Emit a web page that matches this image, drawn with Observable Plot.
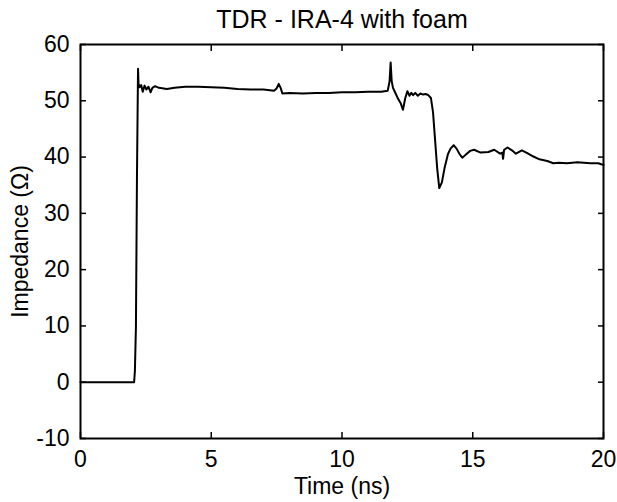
<!DOCTYPE html>
<html><head><meta charset="utf-8">
<script src="https://cdn.jsdelivr.net/npm/d3@7"></script>
<script src="https://cdn.jsdelivr.net/npm/@observablehq/plot@0.6"></script>
<style>body{margin:0;background:#fff}</style>
</head><body><div id="chart"></div>
<script>
const time = [
  0, 2.05, 2.08, 2.12, 2.16, 2.2, 2.22, 2.26, 2.32, 2.38,
  2.45, 2.52, 2.6, 2.68, 2.75, 2.85, 3.0, 3.3, 3.6, 4.0,
  4.5, 5.0, 5.5, 6.0, 6.5, 7.0, 7.4, 7.5, 7.58, 7.66,
  7.72, 8.0, 8.5, 9.0, 9.5, 10.0, 10.5, 11.0, 11.5, 11.75,
  11.82, 11.86, 11.9, 11.95, 12.05, 12.15, 12.25, 12.33, 12.42, 12.5,
  12.58, 12.65, 12.72, 12.8, 12.9, 13.0, 13.1, 13.2, 13.3, 13.4,
  13.48, 13.56, 13.64, 13.72, 13.82, 13.92, 14.05, 14.15, 14.27, 14.38,
  14.5, 14.6, 14.75, 14.9, 15.05, 15.3, 15.6, 15.82, 16.05, 16.13,
  16.16, 16.2, 16.33, 16.5, 16.65, 16.88, 17.05, 17.32, 17.55, 17.85,
  18.08, 18.3, 18.6, 19.0, 19.5, 19.8, 20.0
];
const impedance = [
  0, 0, 2, 10, 37, 55.7, 53, 52.4, 52.8, 51.6,
  52.7, 52.0, 52.5, 51.5, 52.3, 52.6, 52.3, 52.1, 52.3, 52.5,
  52.5, 52.4, 52.3, 52.1, 52.0, 52.0, 51.8, 52.2, 53.0, 52.2,
  51.3, 51.4, 51.3, 51.4, 51.4, 51.5, 51.5, 51.6, 51.6, 51.8,
  53.5, 56.8, 53.5, 52.3, 51.3, 50.3, 49.5, 48.4, 50.5, 51.7,
  50.9, 51.4, 51.0, 51.4, 50.9, 51.3, 51.1, 51.2, 51.0, 50.5,
  48.0, 43.0, 38.0, 34.5, 35.5, 38.0, 40.5, 41.5, 42.1, 41.5,
  40.5, 39.9, 40.5, 41.1, 41.3, 40.8, 40.9, 41.3, 40.6, 40.8,
  39.7, 41.3, 41.7, 41.2, 40.6, 41.2, 40.8, 40.1, 39.6, 39.3,
  38.9, 39.0, 38.9, 39.1, 38.9, 38.9, 38.6
];
const xTicks = [0, 5, 10, 15, 20];
const yTicks = [-10, 0, 10, 20, 30, 40, 50, 60];
const titleText = "TDR - IRA-4 with foam";
const xLabel = "Time (ns)";
const yLabel = "Impedance (\u03A9)";

const data = time.map((t, i) => ({t, z: impedance[i]}));
const blank = () => "";
const plain = (d) => `${d}`;

const chart = Plot.plot({
  width: 617,
  height: 502,
  marginLeft: 80,
  marginRight: 14,
  marginTop: 44,
  marginBottom: 64,
  style: {fontFamily: "'Liberation Sans', Arial, sans-serif", fontSize: "23px", color: "#000", background: "#fff"},
  x: {domain: [0, 20]},
  y: {domain: [-10, 60]},
  marks: [
    Plot.line(data, {x: "t", y: "z", stroke: "#000", strokeWidth: 2}),
    Plot.frame({stroke: "#000", strokeWidth: 2}),
    Plot.axisX(xTicks, {anchor: "bottom", tickSize: -6, tickPadding: 18, strokeWidth: 1.5, tickFormat: plain, label: xLabel, labelAnchor: "center", labelArrow: "none", labelOffset: 55, fontSize: 23}),
    Plot.axisX(xTicks, {anchor: "top", tickSize: -6, strokeWidth: 1.5, tickFormat: blank, label: null}),
    Plot.axisY(yTicks, {anchor: "left", tickSize: -6, tickPadding: 17, strokeWidth: 1.5, tickFormat: plain, label: yLabel, labelAnchor: "center", labelArrow: "none", labelOffset: 69, fontSize: 23}),
    Plot.axisY(yTicks, {anchor: "right", tickSize: -6, strokeWidth: 1.5, tickFormat: blank, label: null}),
    Plot.text([titleText], {frameAnchor: "top", dy: -17, lineAnchor: "bottom", fontSize: 25})
  ]
});
document.getElementById("chart").appendChild(chart);
</script>
</body></html>
